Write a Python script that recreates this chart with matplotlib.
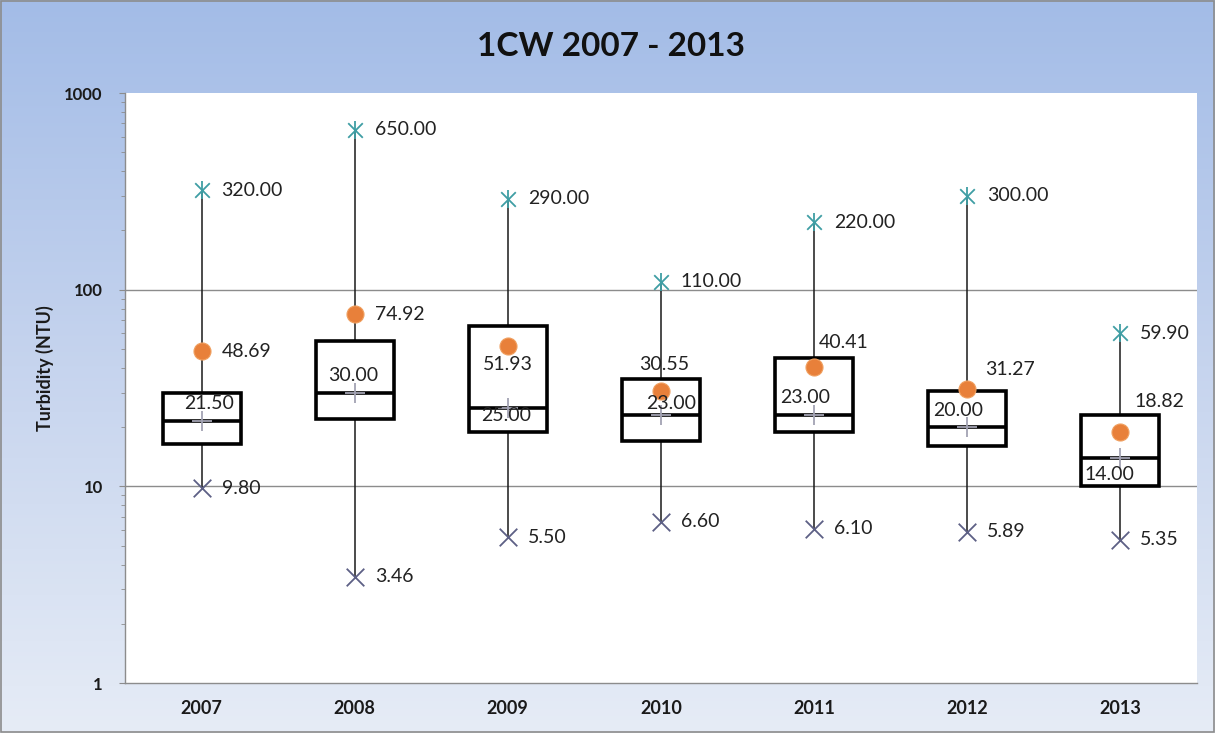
import numpy as np
import matplotlib
matplotlib.use("Agg")
import matplotlib.pyplot as plt
from matplotlib.colors import LinearSegmentedColormap
from matplotlib.patches import Rectangle

# ---- data ----
years = ["2007", "2008", "2009", "2010", "2011", "2012", "2013"]
max_vals = [320.00, 650.00, 290.00, 110.00, 220.00, 300.00, 59.90]
min_vals = [9.80, 3.46, 5.50, 6.60, 6.10, 5.89, 5.35]
mean_vals = [48.69, 74.92, 51.93, 30.55, 40.41, 31.27, 18.82]
median_vals = [21.50, 30.00, 25.00, 23.00, 23.00, 20.00, 14.00]
q1_vals = [16.4, 22.0, 19.0, 17.0, 19.0, 16.0, 10.0]
q3_vals = [30.0, 55.0, 65.0, 35.0, 45.0, 30.5, 23.0]
y_ticks = [1, 10, 100, 1000]

# label placements (pixel offsets, style only)
mean_off = [(20, 0, 'left'), (20, 0, 'left'), (0, -19, 'center'), (3, 26, 'center'),
            (5, 25, 'left'), (18, 19, 'left'), (14, 31, 'left')]
med_off = [(8, 17), (-1, 17), (-2, -7), (10, 12), (-9, 18), (-9, 17), (-11, -17)]

plt.rcParams['font.family'] = ['Lato', 'DejaVu Sans']

fig = plt.figure(figsize=(12.15, 7.33), dpi=100)

# background gradient
bg = fig.add_axes([0, 0, 1, 1], zorder=-10)
cmap = LinearSegmentedColormap.from_list("bg", ["#a3bce7", "#c6d4ee", "#e6ecf6"])
grad = np.linspace(0, 1, 256).reshape(-1, 1)
bg.imshow(grad, aspect='auto', cmap=cmap, extent=[0, 1, 0, 1], origin='upper')
bg.set_axis_off()
fig.patches.append(Rectangle((0.001, 0.001), 0.998, 0.997, transform=fig.transFigure,
                             fill=False, edgecolor="#8c8c8c", lw=1.2))

ax = fig.add_axes([0.1029, 0.0682, 0.882, 0.8049])
ax.set_facecolor("white")
ax.set_yscale('log')
ax.set_ylim(1, 1000)
ax.set_xlim(-0.5, len(years) - 0.5)

x = np.arange(len(years))
bw = 0.51

# grid
for g in [10, 100]:
    ax.axhline(g, color="#8c8c8c", lw=1.0, zorder=0)

# whiskers
ax.vlines(x, min_vals, max_vals, color="#1a1a1a", lw=1.1, zorder=1)

# boxes
heights = [b - a for a, b in zip(q1_vals, q3_vals)]
ax.bar(x, heights, bottom=q1_vals, width=bw, facecolor="white", edgecolor="black",
       lw=2.6, zorder=2)
ax.hlines(median_vals, x - bw / 2, x + bw / 2, color="black", lw=2.6, zorder=3)

# markers
ax.scatter(x, max_vals, marker='x', s=110, color="#3f9ea4", lw=1.3, zorder=4)
ax.scatter(x, max_vals, marker='|', s=150, color="#3f9ea4", lw=1.3, zorder=4)
ax.scatter(x, min_vals, marker='x', s=160, color="#5d6085", lw=1.3, zorder=4)
ax.scatter(x, median_vals, marker='+', s=200, color="#a3a3b3", lw=1.3, zorder=4)
ax.scatter(x, mean_vals, marker='o', s=150, color="#e8803a", edgecolors="#f0a060",
           lw=0.8, zorder=5)

tc = "#222222"
fs = 14
for i in range(len(years)):
    ax.annotate(f"{max_vals[i]:.2f}", (x[i], max_vals[i]), xytext=(20, 0),
                textcoords='offset pixels', ha='left', va='center', fontsize=fs, color=tc, zorder=6)
    ax.annotate(f"{min_vals[i]:.2f}", (x[i], min_vals[i]), xytext=(20, 0),
                textcoords='offset pixels', ha='left', va='center', fontsize=fs, color=tc, zorder=6)
    dx, dy, ha = mean_off[i]
    ax.annotate(f"{mean_vals[i]:.2f}", (x[i], mean_vals[i]), xytext=(dx, dy),
                textcoords='offset pixels', ha=ha, va='center', fontsize=fs, color=tc, zorder=6)
    dx, dy = med_off[i]
    ax.annotate(f"{median_vals[i]:.2f}", (x[i], median_vals[i]), xytext=(dx, dy),
                textcoords='offset pixels', ha='center', va='center', fontsize=fs, color=tc, zorder=6)

ax.set_xticks(x)
ax.set_xticklabels(years, fontsize=13, fontweight='bold', color="#1a1a1a")
ax.tick_params(axis='x', length=0, pad=12)
ax.set_yticks(y_ticks)
ax.set_yticklabels([str(v) for v in y_ticks], fontsize=12, fontweight='bold', color="#1a1a1a")
ax.tick_params(axis='y', which='major', length=4, color="#8c8c8c", pad=12)
ax.tick_params(axis='y', which='minor', length=3, color="#8c8c8c")
ax.yaxis.set_minor_formatter(matplotlib.ticker.NullFormatter())

for s in ['top', 'right']:
    ax.spines[s].set_visible(False)
for s in ['left', 'bottom']:
    ax.spines[s].set_color("#8c8c8c")
    ax.spines[s].set_linewidth(1.0)

fig.text(45 / 1215, 1 - 368 / 733, "Turbidity (NTU)", rotation=90, ha='center', va='center',
         fontsize=13, fontweight='bold', color="#1a1a1a")
fig.text(0.503, 0.936, "1CW 2007 - 2013", ha='center', va='center', fontsize=24,
         fontweight='bold', color="#111111")

fig.savefig("out.png", dpi=100)
